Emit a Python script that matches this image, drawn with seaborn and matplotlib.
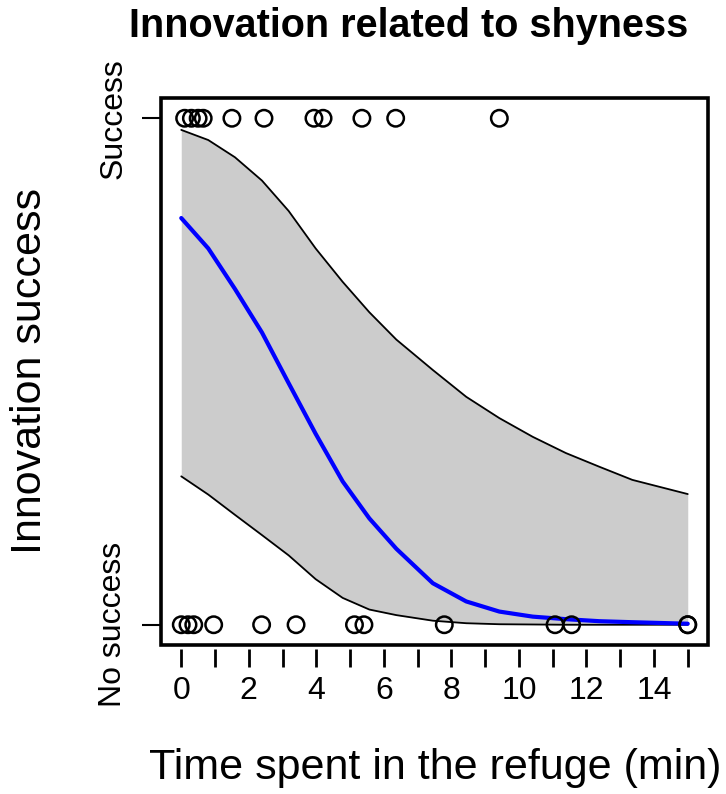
import numpy as np
import pandas as pd
import matplotlib
matplotlib.use("Agg")
import matplotlib.pyplot as plt
from matplotlib.patches import Rectangle
import seaborn as sns

# ---- data ----
success_time = [0.1, 0.3, 0.5, 0.65, 1.5, 2.45, 3.93, 4.2, 5.35, 6.35, 9.42]
nosuccess_time = [0.0, 0.2, 0.37, 0.96, 2.38, 3.4, 5.13, 5.41, 7.79, 11.07, 11.56, 15.0, 15.0]

curve_x = [0, 0.8, 1.59, 2.39, 3.18, 3.98, 4.78, 5.57, 6.37, 7.45, 8.44,
           9.42, 10.41, 11.39, 12.38, 13.36, 15]
fit_y = [0.803, 0.743, 0.663, 0.577, 0.477, 0.377, 0.283, 0.210, 0.150, 0.082,
         0.046, 0.026, 0.016, 0.011, 0.007, 0.005, 0.002]
upper_y = [0.977, 0.957, 0.923, 0.877, 0.817, 0.743, 0.677, 0.617, 0.563, 0.503,
           0.450, 0.408, 0.371, 0.339, 0.312, 0.286, 0.258]
lower_y = [0.293, 0.257, 0.217, 0.177, 0.137, 0.090, 0.053, 0.030, 0.019, 0.008,
           0.003, 0.001, 0.0005, 0.0, 0.0, 0.0, 0.0]

x_ticks = list(range(16))
x_ticklabels = [str(v) if v % 2 == 0 else "" for v in x_ticks]
y_ticks = [0, 1]
y_ticklabels = ["No success", "Success"]

title = "Innovation related to shyness"
xlabel = "Time spent in the refuge (min)"
ylabel = "Innovation success"

# ---- style ----
sns.set_theme(style="white")
plt.rcParams["font.family"] = ["Liberation Sans", "DejaVu Sans"]
plt.rcParams["text.color"] = "black"
plt.rcParams["axes.labelcolor"] = "black"
plt.rcParams["xtick.color"] = "black"
plt.rcParams["ytick.color"] = "black"

W, H = 726, 794
fig = plt.figure(figsize=(W / 100, H / 100), dpi=100)
L, R, T, B = 161, 708, 98, 645
ax = fig.add_axes([L / W, 1 - B / H, (R - L) / W, (B - T) / H])

curves = pd.DataFrame({"x": curve_x, "fit": fit_y, "upper": upper_y, "lower": lower_y})
points = pd.DataFrame({
    "time": success_time + nosuccess_time,
    "outcome": [1] * len(success_time) + [0] * len(nosuccess_time),
})

ax.fill_between(curves["x"], curves["lower"], curves["upper"], color="#CCCCCC", lw=0, zorder=1)
sns.lineplot(data=curves, x="x", y="upper", ax=ax, color="black", lw=1.3, zorder=2)
sns.lineplot(data=curves, x="x", y="lower", ax=ax, color="black", lw=1.3, zorder=2)
sns.lineplot(data=curves, x="x", y="fit", ax=ax, color="#0000FF", lw=3.0, zorder=3)
sns.scatterplot(data=points, x="time", y="outcome", ax=ax, marker="o", s=140,
                facecolor="none", edgecolor="black", linewidth=1.8, zorder=4)

ax.set_xlim(-0.6, 15.6)
ax.set_ylim(-0.04, 1.04)

for s in ax.spines.values():
    s.set_visible(False)
ax.spines["bottom"].set_position(("outward", 3))
ax.add_patch(Rectangle((0, 0), 1, 1, transform=ax.transAxes, fill=False,
                       lw=2.6, edgecolor="black", clip_on=False, zorder=6))

ax.set_xticks(x_ticks)
ax.set_xticklabels(x_ticklabels, fontsize=23)
ax.set_yticks(y_ticks)
ax.set_yticklabels(y_ticklabels, fontsize=23, rotation=90, va="center")
ax.tick_params(axis="x", direction="out", length=13, width=2, color="black",
               bottom=True, pad=6, labelcolor="black")
ax.tick_params(axis="y", direction="out", length=13.7, width=1.5, color="black",
               left=True, pad=10, labelcolor="black")
ax.set_xlabel("")
ax.set_ylabel("")
ax.grid(False)

fig.text(409 / W, 1 - 37 / H, title, ha="center", va="baseline",
         fontsize=28.5, fontweight="bold", color="black")
fig.text(435 / W, 1 - 768 / H, xlabel, ha="center", va="center", fontsize=31, color="black")
fig.text(30 / W, 1 - 371 / H, ylabel, ha="center", va="center", fontsize=31,
         rotation=90, color="black")

fig.savefig("out.png", dpi=100, facecolor="white")
